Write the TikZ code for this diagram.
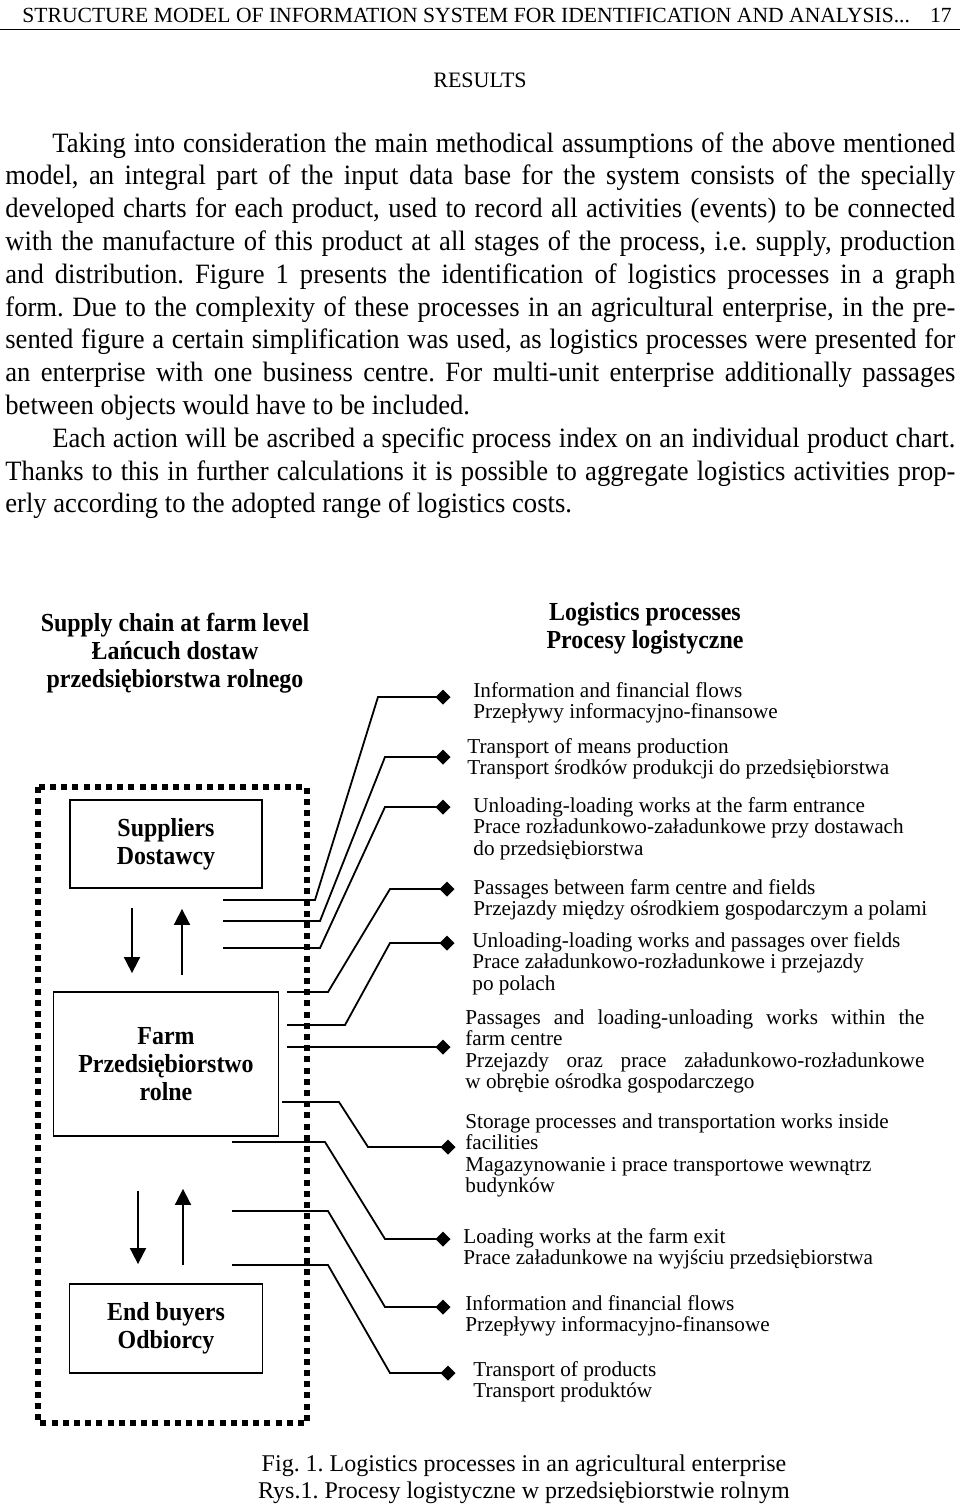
\documentclass[tikz,border=0pt]{standalone}
\usepackage{fontspec}
\setmainfont{Liberation Serif}
\newfontfamily\bodyrm{Liberation Serif}[FakeStretch=0.95]
\newfontfamily\narrowrm{Liberation Serif}[FakeStretch=0.92]
\usetikzlibrary{arrows.meta}
\usetikzlibrary{calc}

\newcommand{\runfont}{\fontsize{10.8}{13}\selectfont}
\newcommand{\bodyfont}{\bodyrm\fontsize{14}{16.4}\selectfont}
\newcommand{\titlefont}{\narrowrm\fontsize{13}{14}\selectfont\bfseries}
\newcommand{\procfont}{\fontsize{10.6}{10.75}\selectfont}
\newcommand{\capfont}{\fontsize{12}{13.5}\selectfont}
\frenchspacing
\hyphenpenalty=10000
\exhyphenpenalty=10000
\tolerance=9999

\tikzset{
  box/.style={draw, line width=0.9pt, align=center, inner sep=0pt, font=\titlefont},
  proc/.style={anchor=north west, align=left, inner sep=0pt, font=\procfont},
  link/.style={line width=0.9pt, -{Diamond[length=7.5pt,width=7.5pt]}},
  flow/.style={line width=0.9pt, -{Triangle[length=8pt,width=8pt]}},
  frame/.style={line width=2.8pt, dash pattern=on 3pt off 2.6pt}
}

\begin{document}
\begin{tikzpicture}[x=0.5pt, y=-0.5pt]
	\useasboundingbox (0,0) rectangle (960,1506);

	\node (head) [anchor=west, inner sep=0pt, font=\runfont] at (22,15) {STRUCTURE MODEL OF INFORMATION SYSTEM FOR IDENTIFICATION AND ANALYSIS...};
	\node (page) [anchor=east, inner sep=0pt, font=\runfont] at (952,15) {17};
	\draw [line width=0.75pt] (0,29.5) -- (960,29.5);
	\node (results) [inner sep=0pt, font=\fontsize{11}{13}\selectfont] at (480,80) {RESULTS};

	\node (body) [anchor=north west, inner sep=0pt, text width=475pt, align=justify, font=\bodyfont] at (5,132) {%
\noindent\hspace*{23.5pt}Taking into consideration the main methodical assumptions of the above mentioned\linebreak
model, an integral part of the input data base for the system consists of the specially\linebreak
developed charts for each product, used to record all activities (events) to be connected\linebreak
with the manufacture of this product at all stages of the process, i.e. supply, production\linebreak
and distribution. Figure 1 presents the identification of logistics processes in a graph\linebreak
form. Due to the complexity of these processes in an agricultural enterprise, in the pre-\linebreak
sented figure a certain simplification was used, as logistics processes were presented for\linebreak
an enterprise with one business centre. For multi-unit enterprise additionally passages\linebreak
between objects would have to be included.\par
\noindent\hspace*{23.5pt}Each action will be ascribed a specific process index on an individual product chart.\linebreak
Thanks to this in further calculations it is possible to aggregate logistics activities prop-\linebreak
erly according to the adopted range of logistics costs.};

	\node (chain) [anchor=north, align=center, inner sep=0pt, font=\titlefont] at (175,613) {Supply chain at farm level\\Łańcuch dostaw\\przedsiębiorstwa rolnego};
	\node (procs) [anchor=north, align=center, inner sep=0pt, font=\titlefont] at (645,602) {Logistics processes\\Procesy logistyczne};

	\begin{scope}[every node/.style={box}]
	    \node (sup) [minimum width=96pt, minimum height=44pt] at (166,844) {Suppliers\\Dostawcy};
	    \node (farm) [minimum width=112.5pt, minimum height=72pt] at (166,1064) {Farm\\Przedsiębiorstwo\\rolne};
	    \node (buyers) [minimum width=96.5pt, minimum height=44.5pt] at (166,1328.5) {End buyers\\Odbiorcy};
	\end{scope}

	\draw [frame] (38,787) rectangle (307,1423);

	\draw [flow] ([xshift=-17pt,yshift=-9.5pt]sup.south) -- ([xshift=-17pt,yshift=9pt]farm.north);
	\draw [flow] ([xshift=8pt,yshift=8pt]farm.north) -- ([xshift=8pt,yshift=-10pt]sup.south);
	\draw [flow] ([xshift=-14pt,yshift=-27pt]farm.south) -- ([xshift=-14pt,yshift=9.5pt]buyers.north);
	\draw [flow] ([xshift=8.5pt,yshift=9pt]buyers.north) -- ([xshift=8.5pt,yshift=-26pt]farm.south);

	\begin{scope}[every node/.style={proc}]
	    \node (p1) at (473,682) {Information and financial flows\\Przepływy informacyjno-finansowe};
	    \node (p2) at (467,738) {Transport of means production\\Transport środków produkcji do przedsiębiorstwa};
	    \node (p3) at (473,797) {Unloading-loading works at the farm entrance\\Prace rozładunkowo-załadunkowe przy dostawach\\do przedsiębiorstwa};
	    \node (p4) at (473,879) {Passages between farm centre and fields\\Przejazdy między ośrodkiem gospodarczym a polami};
	    \node (p5) at (472,932) {Unloading-loading works and passages over fields\\Prace załadunkowo-rozładunkowe i przejazdy\\po polach};
	    \node (p6) [text width=229.5pt, align=justify] at (465,1009) {Passages and loading-unloading works within the\linebreak farm centre\\Przejazdy oraz prace załadunkowo-rozładunkowe\linebreak w obrębie ośrodka gospodarczego};
	    \node (p7) at (465,1113) {Storage processes and transportation works inside\\facilities\\Magazynowanie i prace transportowe wewnątrz\\budynków};
	    \node (p8) at (463,1228) {Loading works at the farm exit\\Prace załadunkowe na wyjściu przedsiębiorstwa};
	    \node (p9) at (465,1295) {Information and financial flows\\Przepływy informacyjno-finansowe};
	    \node (p10) at (473,1361) {Transport of products\\Transport produktów};
	\end{scope}

	\coordinate (s1) at (223,900);   \coordinate (d1) at (450.5,697);
	\coordinate (s2) at (223,921);   \coordinate (d2) at (450.5,757);
	\coordinate (s3) at (223,948);   \coordinate (d3) at (450.5,807);
	\coordinate (s4) at (287,992);   \coordinate (d4) at (454.5,889);
	\coordinate (s5) at (287,1025);  \coordinate (d5) at (454.5,943);
	\coordinate (s6) at (287,1047);  \coordinate (d6) at (450.5,1047);
	\coordinate (s7) at (282,1102);  \coordinate (d7) at (455.5,1147);
	\coordinate (s8) at (232,1142);  \coordinate (d8) at (450.5,1239);
	\coordinate (s9) at (232,1211);  \coordinate (d9) at (450.5,1307);
	\coordinate (s10) at (232,1265); \coordinate (d10) at (455.5,1373);

	\draw [link] (s1) -- (315,900) -- (378,697) -- (d1);
	\draw [link] (s2) -- (320,921) -- (385,757) -- (d2);
	\draw [link] (s3) -- (320,948) -- (385,807) -- (d3);
	\draw [link] (s4) -- (328,992) -- (390,889) -- (d4);
	\draw [link] (s5) -- (345,1025) -- (390,943) -- (d5);
	\draw [link] (s6) -- (d6);
	\draw [link] (s7) -- (339,1102) -- (368,1147) -- (d7);
	\draw [link] (s8) -- (325,1142) -- (385,1239) -- (d8);
	\draw [link] (s9) -- (328,1211) -- (385,1307) -- (d9);
	\draw [link] (s10) -- (328,1265) -- (390,1373) -- (d10);

	\node (fig) [anchor=north, align=center, inner sep=0pt, font=\capfont] at (524,1454) {Fig. 1. Logistics processes in an agricultural enterprise\\Rys.1. Procesy logistyczne w przedsiębiorstwie rolnym};
\end{tikzpicture}
\end{document}
